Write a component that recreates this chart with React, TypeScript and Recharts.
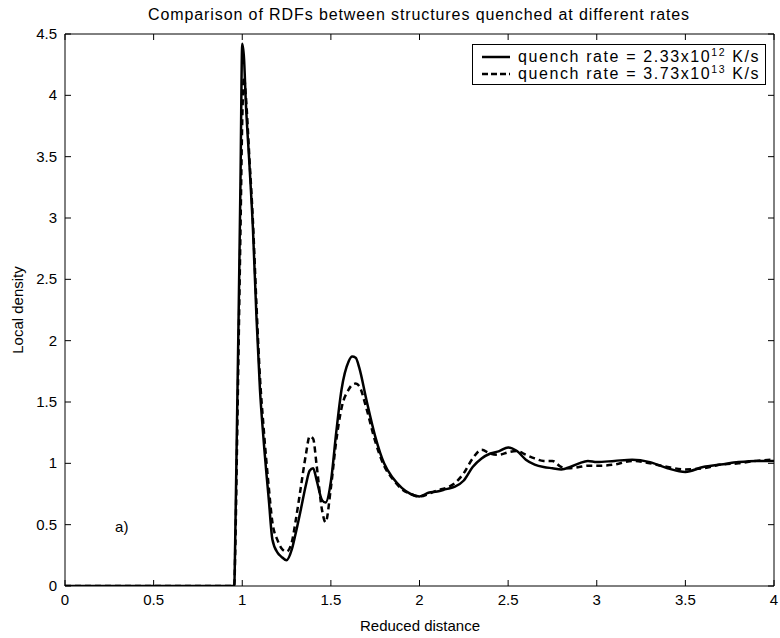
import React from "react";
import {
  LineChart,
  Line,
  XAxis,
  YAxis,
  ReferenceDot,
  ReferenceLine,
  Customized,
} from "recharts";

const distance = [
  0, 0.5, 0.9, 0.95, 0.955, 0.96, 0.97, 0.98, 0.99, 1.0, 1.01, 1.02, 1.04, 1.06, 1.08,
  1.1, 1.12, 1.15, 1.17, 1.2, 1.22, 1.25, 1.28, 1.3, 1.33, 1.36, 1.38, 1.4, 1.42, 1.45,
  1.47, 1.5, 1.53, 1.56, 1.6, 1.62, 1.64, 1.66, 1.7, 1.75, 1.8, 1.85, 1.9, 1.95, 2.0,
  2.05, 2.1, 2.15, 2.2, 2.25, 2.3, 2.35, 2.4, 2.45, 2.5, 2.55, 2.6, 2.65, 2.7, 2.75,
  2.8, 2.85, 2.9, 2.95, 3.0, 3.1, 3.2, 3.3, 3.4, 3.5, 3.6, 3.7, 3.8, 3.9, 4.0,
];

// quench rate = 2.33x10^12 K/s
const slowQuench = [
  0, 0, 0, 0, 0, 0.35, 1.3, 2.25, 3.3, 4.42, 4.3, 3.95, 3.45, 2.92, 2.2,
  1.6, 1.2, 0.7, 0.38, 0.27, 0.24, 0.21, 0.3, 0.42, 0.62, 0.83, 0.94, 0.96, 0.86, 0.7,
  0.68, 0.85, 1.25, 1.6, 1.83, 1.87, 1.86, 1.78, 1.52, 1.22, 1.0, 0.88, 0.8, 0.75, 0.73,
  0.76, 0.77, 0.79, 0.81, 0.86, 0.97, 1.04, 1.08, 1.1, 1.13, 1.1, 1.03, 0.99, 0.97, 0.96,
  0.95, 0.97, 1.0, 1.02, 1.01, 1.02, 1.03, 1.01, 0.96, 0.93, 0.97, 0.99, 1.01, 1.02, 1.02,
];

// quench rate = 3.73x10^13 K/s
const fastQuench = [
  0, 0, 0, 0, 0, 0.25, 1.1, 2.0, 2.9, 3.8, 4.15, 4.0, 3.5, 2.98, 2.3,
  1.7, 1.3, 0.8, 0.52, 0.37, 0.31, 0.28, 0.36, 0.52, 0.8, 1.08, 1.22, 1.2, 0.98, 0.62,
  0.52, 0.8, 1.18, 1.45, 1.6, 1.64, 1.65, 1.63, 1.45, 1.18, 0.98, 0.87, 0.79, 0.75, 0.73,
  0.75, 0.78, 0.8, 0.84, 0.92, 1.04, 1.11, 1.08, 1.07, 1.09, 1.1, 1.07, 1.04, 1.02, 1.02,
  0.97, 0.96, 0.97, 0.98, 0.98, 0.99, 1.02, 1.0, 0.97, 0.95, 0.96, 0.99, 1.0, 1.02, 1.03,
];

const xTicks = [0, 0.5, 1, 1.5, 2, 2.5, 3, 3.5, 4];
const yTicks = [0, 0.5, 1, 1.5, 2, 2.5, 3, 3.5, 4, 4.5];

const data = distance.map((x, i) => ({
  x,
  slow: slowQuench[i],
  fast: fastQuench[i],
}));

const X_MAX = 4;
const Y_MAX = 4.5;
const PLOT_W = 709;
const PLOT_H = 552;
// inward tick length (~6px) expressed in data units
const tickDx = (6 * X_MAX) / PLOT_W;
const tickDy = (6 * Y_MAX) / PLOT_H;

const font = "'Liberation Sans', Arial, Helvetica, sans-serif";

function BottomTick(p: any) {
  return (
    <text x={p.x} y={p.y + 19} textAnchor="middle" fontSize={15} fontFamily={font} fill="#000">
      {p.payload.value}
    </text>
  );
}

function LeftTick(p: any) {
  return (
    <text x={p.x - 8} y={p.y + 5} textAnchor="end" fontSize={15} fontFamily={font} fill="#000">
      {p.payload.value}
    </text>
  );
}

const NoTick = () => <g />;

function Texts() {
  return (
    <g fontFamily={font} fill="#000">
      <text x={419} y={20} textAnchor="middle" fontSize={16} letterSpacing={0.9}>
        Comparison of RDFs between structures quenched at different rates
      </text>
      <text x={420} y={631} textAnchor="middle" fontSize={15}>
        Reduced distance
      </text>
      <text x={23} y={310} textAnchor="middle" fontSize={15} transform="rotate(-90 23 310)">
        Local density
      </text>
    </g>
  );
}

function LegendBox() {
  const row = { display: "flex", alignItems: "center", height: 17 };
  const sup = { fontSize: 10.5, verticalAlign: 6, lineHeight: 0 };
  return (
    <div
      style={{
        position: "absolute",
        left: 472,
        top: 44,
        width: 294,
        height: 41,
        border: "1px solid #000",
        background: "#fff",
        fontFamily: font,
        fontSize: 16,
        letterSpacing: 1.6,
        color: "#000",
        boxSizing: "border-box",
        padding: "3px 0 0 9px",
        lineHeight: "16px",
        whiteSpace: "nowrap",
      }}
    >
      <div style={row}>
        <svg width={28} height={6} style={{ marginRight: 8 }}>
          <line x1={0} y1={3} x2={28} y2={3} stroke="#000" strokeWidth={2.5} />
        </svg>
        <span>
          quench rate = 2.33x10<sup style={sup}>12</sup> K/s
        </span>
      </div>
      <div style={row}>
        <svg width={28} height={6} style={{ marginRight: 8 }}>
          <line x1={0} y1={3} x2={28} y2={3} stroke="#000" strokeWidth={2.5} strokeDasharray="6 3" />
        </svg>
        <span>
          quench rate = 3.73x10<sup style={sup}>13</sup> K/s
        </span>
      </div>
    </div>
  );
}

export default function App() {
  return (
    <div style={{ position: "absolute", left: 0, top: 0, width: 780, height: 638, background: "#fff" }}>
      <LineChart width={780} height={638} data={data} margin={{ top: 34, right: 6, bottom: 0, left: 0 }}>
        <XAxis
          dataKey="x"
          type="number"
          domain={[0, X_MAX]}
          ticks={xTicks}
          tick={BottomTick}
          tickLine={false}
          tickSize={0}
          tickMargin={0}
          interval={0}
          height={52}
          stroke="#000"
          allowDataOverflow
        />
        <YAxis
          type="number"
          domain={[0, Y_MAX]}
          ticks={yTicks}
          tick={LeftTick}
          tickLine={false}
          tickSize={0}
          tickMargin={0}
          interval={0}
          width={65}
          stroke="#000"
          allowDataOverflow
        />
        {/* box edges */}
        <XAxis
          xAxisId="top"
          orientation="top"
          dataKey="x"
          type="number"
          domain={[0, X_MAX]}
          ticks={xTicks}
          tick={NoTick}
          tickLine={false}
          mirror
          stroke="#000"
        />
        <YAxis
          yAxisId="right"
          orientation="right"
          type="number"
          domain={[0, Y_MAX]}
          ticks={yTicks}
          tick={NoTick}
          tickLine={false}
          mirror
          stroke="#000"
        />
        {/* inward tick marks on all four sides */}
        {xTicks.map((t) => (
          <ReferenceLine
            key={`b${t}`}
            segment={[{ x: t, y: 0 }, { x: t, y: tickDy }]}
            stroke="#000"
            strokeWidth={1}
          />
        ))}
        {xTicks.map((t) => (
          <ReferenceLine
            key={`t${t}`}
            segment={[{ x: t, y: Y_MAX }, { x: t, y: Y_MAX - tickDy }]}
            stroke="#000"
            strokeWidth={1}
          />
        ))}
        {yTicks.map((t) => (
          <ReferenceLine
            key={`l${t}`}
            segment={[{ x: 0, y: t }, { x: tickDx, y: t }]}
            stroke="#000"
            strokeWidth={1}
          />
        ))}
        {yTicks.map((t) => (
          <ReferenceLine
            key={`r${t}`}
            segment={[{ x: X_MAX, y: t }, { x: X_MAX - tickDx, y: t }]}
            stroke="#000"
            strokeWidth={1}
          />
        ))}
        <Line
          type="monotone"
          dataKey="slow"
          stroke="#000"
          strokeWidth={2.5}
          dot={false}
          isAnimationActive={false}
        />
        <Line
          type="monotone"
          dataKey="fast"
          stroke="#000"
          strokeWidth={2.5}
          strokeDasharray="6 4"
          dot={false}
          isAnimationActive={false}
        />
        <ReferenceDot
          x={0.32}
          y={0.48}
          r={0}
          stroke="none"
          label={{ value: "a)", position: "center", fontSize: 15, fill: "#000", fontFamily: font }}
        />
        <Customized component={Texts} />
      </LineChart>
      <LegendBox />
    </div>
  );
}
